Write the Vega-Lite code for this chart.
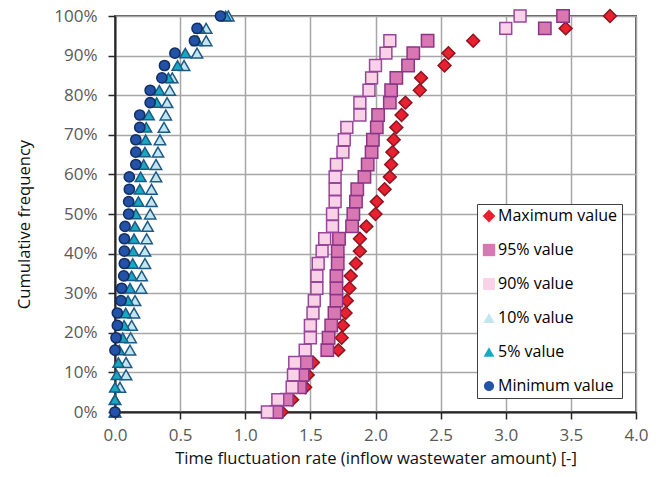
{
  "$schema": "https://vega.github.io/schema/vega-lite/v6.json",
  "width": 521,
  "height": 396,
  "autosize": {"type": "none"},
  "padding": {"left": 115, "top": 16, "right": 26, "bottom": 65},
  "background": "white",
  "config": {
    "view": {"stroke": "#595959", "strokeWidth": 2},
    "font": "Open Sans",
    "axis": {
      "gridColor": "#A6A6A6",
      "gridWidth": 1.5,
      "domainColor": "#262626",
      "domainWidth": 2,
      "tickColor": "#262626",
      "tickWidth": 1.5,
      "tickSize": 7,
      "labelFont": "Open Sans",
      "labelFontSize": 17,
      "labelColor": "#595959",
      "titleFont": "Open Sans",
      "titleFontSize": 16.6,
      "titleFontWeight": "normal",
      "titleColor": "#111111"
    },
    "legend": {
      "orient": "bottom-right",
      "offset": 14,
      "padding": 4,
      "strokeColor": "#404040",
      "fillColor": "white",
      "labelFont": "Open Sans",
      "labelFontSize": 16,
      "labelColor": "#000000",
      "labelOffset": 1,
      "symbolSize": 170,
      "symbolStrokeWidth": 0,
      "rowPadding": 18
    }
  },
  "data": {
    "values": [
      {"s": "Maximum value", "f": 0, "x": 1.28},
      {"s": "Maximum value", "f": 0.03125, "x": 1.36},
      {"s": "Maximum value", "f": 0.0625, "x": 1.46},
      {"s": "Maximum value", "f": 0.09375, "x": 1.48},
      {"s": "Maximum value", "f": 0.125, "x": 1.52},
      {"s": "Maximum value", "f": 0.15625, "x": 1.715},
      {"s": "Maximum value", "f": 0.1875, "x": 1.74},
      {"s": "Maximum value", "f": 0.21875, "x": 1.75},
      {"s": "Maximum value", "f": 0.25, "x": 1.77},
      {"s": "Maximum value", "f": 0.28125, "x": 1.78},
      {"s": "Maximum value", "f": 0.3125, "x": 1.8},
      {"s": "Maximum value", "f": 0.34375, "x": 1.81},
      {"s": "Maximum value", "f": 0.375, "x": 1.85},
      {"s": "Maximum value", "f": 0.40625, "x": 1.88},
      {"s": "Maximum value", "f": 0.4375, "x": 1.88},
      {"s": "Maximum value", "f": 0.46875, "x": 1.93},
      {"s": "Maximum value", "f": 0.5, "x": 2.0},
      {"s": "Maximum value", "f": 0.53125, "x": 2.01},
      {"s": "Maximum value", "f": 0.5625, "x": 2.07},
      {"s": "Maximum value", "f": 0.59375, "x": 2.11},
      {"s": "Maximum value", "f": 0.625, "x": 2.12},
      {"s": "Maximum value", "f": 0.65625, "x": 2.13},
      {"s": "Maximum value", "f": 0.6875, "x": 2.14},
      {"s": "Maximum value", "f": 0.71875, "x": 2.16},
      {"s": "Maximum value", "f": 0.75, "x": 2.2},
      {"s": "Maximum value", "f": 0.78125, "x": 2.23},
      {"s": "Maximum value", "f": 0.8125, "x": 2.34},
      {"s": "Maximum value", "f": 0.84375, "x": 2.35},
      {"s": "Maximum value", "f": 0.875, "x": 2.53},
      {"s": "Maximum value", "f": 0.90625, "x": 2.56},
      {"s": "Maximum value", "f": 0.9375, "x": 2.75},
      {"s": "Maximum value", "f": 0.96875, "x": 3.46},
      {"s": "Maximum value", "f": 1, "x": 3.8},

      {"s": "95% value", "f": 0, "x": 1.24},
      {"s": "95% value", "f": 0.03125, "x": 1.32},
      {"s": "95% value", "f": 0.0625, "x": 1.42},
      {"s": "95% value", "f": 0.09375, "x": 1.44},
      {"s": "95% value", "f": 0.125, "x": 1.47},
      {"s": "95% value", "f": 0.15625, "x": 1.63},
      {"s": "95% value", "f": 0.1875, "x": 1.64},
      {"s": "95% value", "f": 0.21875, "x": 1.66},
      {"s": "95% value", "f": 0.25, "x": 1.685},
      {"s": "95% value", "f": 0.28125, "x": 1.7},
      {"s": "95% value", "f": 0.3125, "x": 1.7},
      {"s": "95% value", "f": 0.34375, "x": 1.7},
      {"s": "95% value", "f": 0.375, "x": 1.71},
      {"s": "95% value", "f": 0.40625, "x": 1.71},
      {"s": "95% value", "f": 0.4375, "x": 1.72},
      {"s": "95% value", "f": 0.46875, "x": 1.82},
      {"s": "95% value", "f": 0.5, "x": 1.83},
      {"s": "95% value", "f": 0.53125, "x": 1.85},
      {"s": "95% value", "f": 0.5625, "x": 1.86},
      {"s": "95% value", "f": 0.59375, "x": 1.915},
      {"s": "95% value", "f": 0.625, "x": 1.94},
      {"s": "95% value", "f": 0.65625, "x": 1.97},
      {"s": "95% value", "f": 0.6875, "x": 1.98},
      {"s": "95% value", "f": 0.71875, "x": 2.01},
      {"s": "95% value", "f": 0.75, "x": 2.02},
      {"s": "95% value", "f": 0.78125, "x": 2.11},
      {"s": "95% value", "f": 0.8125, "x": 2.12},
      {"s": "95% value", "f": 0.84375, "x": 2.16},
      {"s": "95% value", "f": 0.875, "x": 2.25},
      {"s": "95% value", "f": 0.90625, "x": 2.29},
      {"s": "95% value", "f": 0.9375, "x": 2.4},
      {"s": "95% value", "f": 0.96875, "x": 3.3},
      {"s": "95% value", "f": 1, "x": 3.44},

      {"s": "\u00a090% value", "f": 0, "x": 1.17},
      {"s": "\u00a090% value", "f": 0.03125, "x": 1.25},
      {"s": "\u00a090% value", "f": 0.0625, "x": 1.36},
      {"s": "\u00a090% value", "f": 0.09375, "x": 1.37},
      {"s": "\u00a090% value", "f": 0.125, "x": 1.38},
      {"s": "\u00a090% value", "f": 0.15625, "x": 1.46},
      {"s": "\u00a090% value", "f": 0.1875, "x": 1.5},
      {"s": "\u00a090% value", "f": 0.21875, "x": 1.5},
      {"s": "\u00a090% value", "f": 0.25, "x": 1.52},
      {"s": "\u00a090% value", "f": 0.28125, "x": 1.53},
      {"s": "\u00a090% value", "f": 0.3125, "x": 1.55},
      {"s": "\u00a090% value", "f": 0.34375, "x": 1.55},
      {"s": "\u00a090% value", "f": 0.375, "x": 1.56},
      {"s": "\u00a090% value", "f": 0.40625, "x": 1.59},
      {"s": "\u00a090% value", "f": 0.4375, "x": 1.61},
      {"s": "\u00a090% value", "f": 0.46875, "x": 1.67},
      {"s": "\u00a090% value", "f": 0.5, "x": 1.67},
      {"s": "\u00a090% value", "f": 0.53125, "x": 1.69},
      {"s": "\u00a090% value", "f": 0.5625, "x": 1.69},
      {"s": "\u00a090% value", "f": 0.59375, "x": 1.69},
      {"s": "\u00a090% value", "f": 0.625, "x": 1.7},
      {"s": "\u00a090% value", "f": 0.65625, "x": 1.75},
      {"s": "\u00a090% value", "f": 0.6875, "x": 1.76},
      {"s": "\u00a090% value", "f": 0.71875, "x": 1.78},
      {"s": "\u00a090% value", "f": 0.75, "x": 1.88},
      {"s": "\u00a090% value", "f": 0.78125, "x": 1.88},
      {"s": "\u00a090% value", "f": 0.8125, "x": 1.95},
      {"s": "\u00a090% value", "f": 0.84375, "x": 1.97},
      {"s": "\u00a090% value", "f": 0.875, "x": 2.0},
      {"s": "\u00a090% value", "f": 0.90625, "x": 2.08},
      {"s": "\u00a090% value", "f": 0.9375, "x": 2.11},
      {"s": "\u00a090% value", "f": 0.96875, "x": 3.0},
      {"s": "\u00a090% value", "f": 1, "x": 3.11},

      {"s": "10% value", "f": 0, "x": 0.0},
      {"s": "10% value", "f": 0.03125, "x": 0.0},
      {"s": "10% value", "f": 0.0625, "x": 0.038},
      {"s": "10% value", "f": 0.09375, "x": 0.085},
      {"s": "10% value", "f": 0.125, "x": 0.085},
      {"s": "10% value", "f": 0.15625, "x": 0.115},
      {"s": "10% value", "f": 0.1875, "x": 0.12},
      {"s": "10% value", "f": 0.21875, "x": 0.128},
      {"s": "10% value", "f": 0.25, "x": 0.146},
      {"s": "10% value", "f": 0.28125, "x": 0.154},
      {"s": "10% value", "f": 0.3125, "x": 0.2},
      {"s": "10% value", "f": 0.34375, "x": 0.205},
      {"s": "10% value", "f": 0.375, "x": 0.23},
      {"s": "10% value", "f": 0.40625, "x": 0.23},
      {"s": "10% value", "f": 0.4375, "x": 0.243},
      {"s": "10% value", "f": 0.46875, "x": 0.25},
      {"s": "10% value", "f": 0.5, "x": 0.27},
      {"s": "10% value", "f": 0.53125, "x": 0.28},
      {"s": "10% value", "f": 0.5625, "x": 0.28},
      {"s": "10% value", "f": 0.59375, "x": 0.315},
      {"s": "10% value", "f": 0.625, "x": 0.315},
      {"s": "10% value", "f": 0.65625, "x": 0.33},
      {"s": "10% value", "f": 0.6875, "x": 0.345},
      {"s": "10% value", "f": 0.71875, "x": 0.376},
      {"s": "10% value", "f": 0.75, "x": 0.39},
      {"s": "10% value", "f": 0.78125, "x": 0.4},
      {"s": "10% value", "f": 0.8125, "x": 0.42},
      {"s": "10% value", "f": 0.84375, "x": 0.44},
      {"s": "10% value", "f": 0.875, "x": 0.53},
      {"s": "10% value", "f": 0.90625, "x": 0.63},
      {"s": "10% value", "f": 0.9375, "x": 0.7},
      {"s": "10% value", "f": 0.96875, "x": 0.7},
      {"s": "10% value", "f": 1, "x": 0.87},

      {"s": "\u00a05% value", "f": 0, "x": 0.0},
      {"s": "\u00a05% value", "f": 0.03125, "x": 0.0},
      {"s": "\u00a05% value", "f": 0.0625, "x": 0.0},
      {"s": "\u00a05% value", "f": 0.09375, "x": 0.013},
      {"s": "\u00a05% value", "f": 0.125, "x": 0.026},
      {"s": "\u00a05% value", "f": 0.15625, "x": 0.033},
      {"s": "\u00a05% value", "f": 0.1875, "x": 0.059},
      {"s": "\u00a05% value", "f": 0.21875, "x": 0.07},
      {"s": "\u00a05% value", "f": 0.25, "x": 0.082},
      {"s": "\u00a05% value", "f": 0.28125, "x": 0.1},
      {"s": "\u00a05% value", "f": 0.3125, "x": 0.115},
      {"s": "\u00a05% value", "f": 0.34375, "x": 0.128},
      {"s": "\u00a05% value", "f": 0.375, "x": 0.136},
      {"s": "\u00a05% value", "f": 0.40625, "x": 0.14},
      {"s": "\u00a05% value", "f": 0.4375, "x": 0.146},
      {"s": "\u00a05% value", "f": 0.46875, "x": 0.154},
      {"s": "\u00a05% value", "f": 0.5, "x": 0.16},
      {"s": "\u00a05% value", "f": 0.53125, "x": 0.18},
      {"s": "\u00a05% value", "f": 0.5625, "x": 0.19},
      {"s": "\u00a05% value", "f": 0.59375, "x": 0.197},
      {"s": "\u00a05% value", "f": 0.625, "x": 0.22},
      {"s": "\u00a05% value", "f": 0.65625, "x": 0.23},
      {"s": "\u00a05% value", "f": 0.6875, "x": 0.235},
      {"s": "\u00a05% value", "f": 0.71875, "x": 0.24},
      {"s": "\u00a05% value", "f": 0.75, "x": 0.26},
      {"s": "\u00a05% value", "f": 0.78125, "x": 0.32},
      {"s": "\u00a05% value", "f": 0.8125, "x": 0.34},
      {"s": "\u00a05% value", "f": 0.84375, "x": 0.41},
      {"s": "\u00a05% value", "f": 0.875, "x": 0.48},
      {"s": "\u00a05% value", "f": 0.90625, "x": 0.54},
      {"s": "\u00a05% value", "f": 0.9375, "x": 0.63},
      {"s": "\u00a05% value", "f": 0.96875, "x": 0.65},
      {"s": "\u00a05% value", "f": 1, "x": 0.85},

      {"s": "Minimum value", "f": 0, "x": 0.0},
      {"s": "Minimum value", "f": 0.15625, "x": 0.0},
      {"s": "Minimum value", "f": 0.1875, "x": 0.008},
      {"s": "Minimum value", "f": 0.21875, "x": 0.018},
      {"s": "Minimum value", "f": 0.25, "x": 0.018},
      {"s": "Minimum value", "f": 0.28125, "x": 0.046},
      {"s": "Minimum value", "f": 0.3125, "x": 0.051},
      {"s": "Minimum value", "f": 0.34375, "x": 0.067},
      {"s": "Minimum value", "f": 0.375, "x": 0.072},
      {"s": "Minimum value", "f": 0.40625, "x": 0.072},
      {"s": "Minimum value", "f": 0.4375, "x": 0.072},
      {"s": "Minimum value", "f": 0.46875, "x": 0.077},
      {"s": "Minimum value", "f": 0.5, "x": 0.105},
      {"s": "Minimum value", "f": 0.53125, "x": 0.105},
      {"s": "Minimum value", "f": 0.5625, "x": 0.11},
      {"s": "Minimum value", "f": 0.59375, "x": 0.11},
      {"s": "Minimum value", "f": 0.625, "x": 0.16},
      {"s": "Minimum value", "f": 0.65625, "x": 0.16},
      {"s": "Minimum value", "f": 0.6875, "x": 0.16},
      {"s": "Minimum value", "f": 0.71875, "x": 0.19},
      {"s": "Minimum value", "f": 0.75, "x": 0.19},
      {"s": "Minimum value", "f": 0.78125, "x": 0.27},
      {"s": "Minimum value", "f": 0.8125, "x": 0.27},
      {"s": "Minimum value", "f": 0.84375, "x": 0.36},
      {"s": "Minimum value", "f": 0.875, "x": 0.38},
      {"s": "Minimum value", "f": 0.90625, "x": 0.46},
      {"s": "Minimum value", "f": 0.9375, "x": 0.61},
      {"s": "Minimum value", "f": 0.96875, "x": 0.63},
      {"s": "Minimum value", "f": 1, "x": 0.81}
    ]
  },
  "mark": {"type": "point", "filled": true, "opacity": 1, "strokeWidth": 1.5, "clip": false},
  "encoding": {
    "x": {
      "field": "x", "type": "quantitative",
      "scale": {"domain": [0, 4], "nice": false, "zero": false},
      "axis": {
        "values": [0, 0.5, 1, 1.5, 2, 2.5, 3, 3.5, 4],
        "format": ".1f",
        "labelFlush": false,
        "labelPadding": 8,
        "title": "Time fluctuation rate (inflow wastewater amount) [-]",
        "titlePadding": 7
      }
    },
    "y": {
      "field": "f", "type": "quantitative",
      "scale": {"domain": [0, 1], "nice": false},
      "axis": {
        "values": [0, 0.1, 0.2, 0.3, 0.4, 0.5, 0.6, 0.7, 0.8, 0.9, 1],
        "format": ".0%",
        "labelPadding": 11,
        "title": "Cumulative frequency",
        "titleX": -91,
        "titleY": 208,
        "titleAngle": -90,
        "titleAlign": "center",
        "titleBaseline": "middle"
      }
    },
    "color": {
      "field": "s", "type": "nominal",
      "scale": {
        "domain": ["Maximum value", "95% value", "\u00a090% value", "10% value", "\u00a05% value", "Minimum value"],
        "range": ["#E8202F", "#D977B3", "#FAD2E8", "#C3E5EF", "#17A8C2", "#2352A9"]
      },
      "legend": {"title": null}
    },
    "shape": {
      "field": "s", "type": "nominal",
      "scale": {
        "domain": ["Maximum value", "95% value", "\u00a090% value", "10% value", "\u00a05% value", "Minimum value"],
        "range": ["diamond", "square", "square", "triangle-up", "triangle-up", "circle"]
      },
      "legend": {"title": null}
    },
    "stroke": {
      "field": "s", "type": "nominal",
      "scale": {
        "domain": ["Maximum value", "95% value", "\u00a090% value", "10% value", "\u00a05% value", "Minimum value"],
        "range": ["#8B1520", "#8A3586", "#97479A", "#1D5A86", "#1D5A86", "#132D5E"]
      },
      "legend": null
    },
    "size": {
      "field": "s", "type": "nominal",
      "scale": {
        "domain": ["Maximum value", "95% value", "\u00a090% value", "10% value", "\u00a05% value", "Minimum value"],
        "range": [165, 105, 105, 150, 150, 115]
      },
      "legend": null
    }
  }
}
